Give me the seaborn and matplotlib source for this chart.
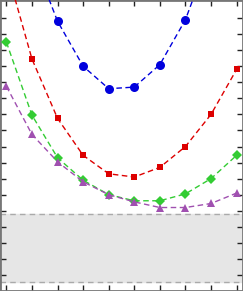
import matplotlib
import matplotlib.pyplot as plt
import numpy as np
import pandas as pd
import seaborn as sns

matplotlib.use('Agg')

# x positions of the samples
x_blue = [2, 3, 4, 5, 6, 7, 8, 9]
y_blue = [20.9, 16.8, 14.0, 12.6, 12.7, 14.1, 16.9, 21.2]

x_red = [1, 2, 3, 4, 5, 6, 7, 8, 9, 10]
y_red = [20.1, 14.45, 10.75, 8.45, 7.3, 7.1, 7.7, 9.0, 11.0, 13.8]

x_green = [1, 2, 3, 4, 5, 6, 7, 8, 9, 10]
y_green = [15.5, 10.95, 8.3, 6.9, 6.0, 5.62, 5.62, 6.05, 7.0, 8.45]

x_purple = [1, 2, 3, 4, 5, 6, 7, 8, 9, 10]
y_purple = [12.75, 9.75, 8.05, 6.8, 6.0, 5.55, 5.2, 5.2, 5.45, 6.1]

band_low, band_high = 0.56, 4.8


def main():
    sns.set_style("white")
    fig = plt.figure(figsize=(2.43, 2.91), dpi=100)
    ax = fig.add_axes([0, 0, 1, 1])

    ax.axhspan(band_low, band_high, color='#e6e6e6', zorder=0)
    for yb in (band_low, band_high):
        ax.axhline(yb, color='#aaaaaa', lw=1, ls=(0, (4, 3)), zorder=1)

    series = [
        (x_blue, y_blue, '#0000dd', 'o', 6.5),
        (x_red, y_red, '#dd0000', 's', 4.5),
        (x_green, y_green, '#33cc33', 'D', 5),
        (x_purple, y_purple, '#a050b0', '^', 6),
    ]
    for xs, ys, col, mk, ms in series:
        df = pd.DataFrame({'x': xs, 'y': ys})
        sns.lineplot(data=df, x='x', y='y', ax=ax, color=col, marker=mk,
                     markersize=ms, markeredgewidth=0, lw=1,
                     linestyle=(0, (4, 2.5)), zorder=3)

    ax.set_xlim(0.75, 10.25)
    ax.set_ylim(0, 18.125)
    ax.set_xticks(np.arange(1, 11))
    ax.set_yticks(np.arange(1, 18))
    ax.tick_params(direction='in', length=4, width=1, colors='#222222',
                   top=True, right=True, bottom=True, left=True,
                   labelbottom=False, labelleft=False)
    for sp in ax.spines.values():
        sp.set_visible(True)
        sp.set_color('#777777')
        sp.set_linewidth(2)
    ax.set_xlabel('')
    ax.set_ylabel('')
    ax.grid(False)
    fig.savefig('out.png', dpi=100)


if __name__ == '__main__':
    main()
